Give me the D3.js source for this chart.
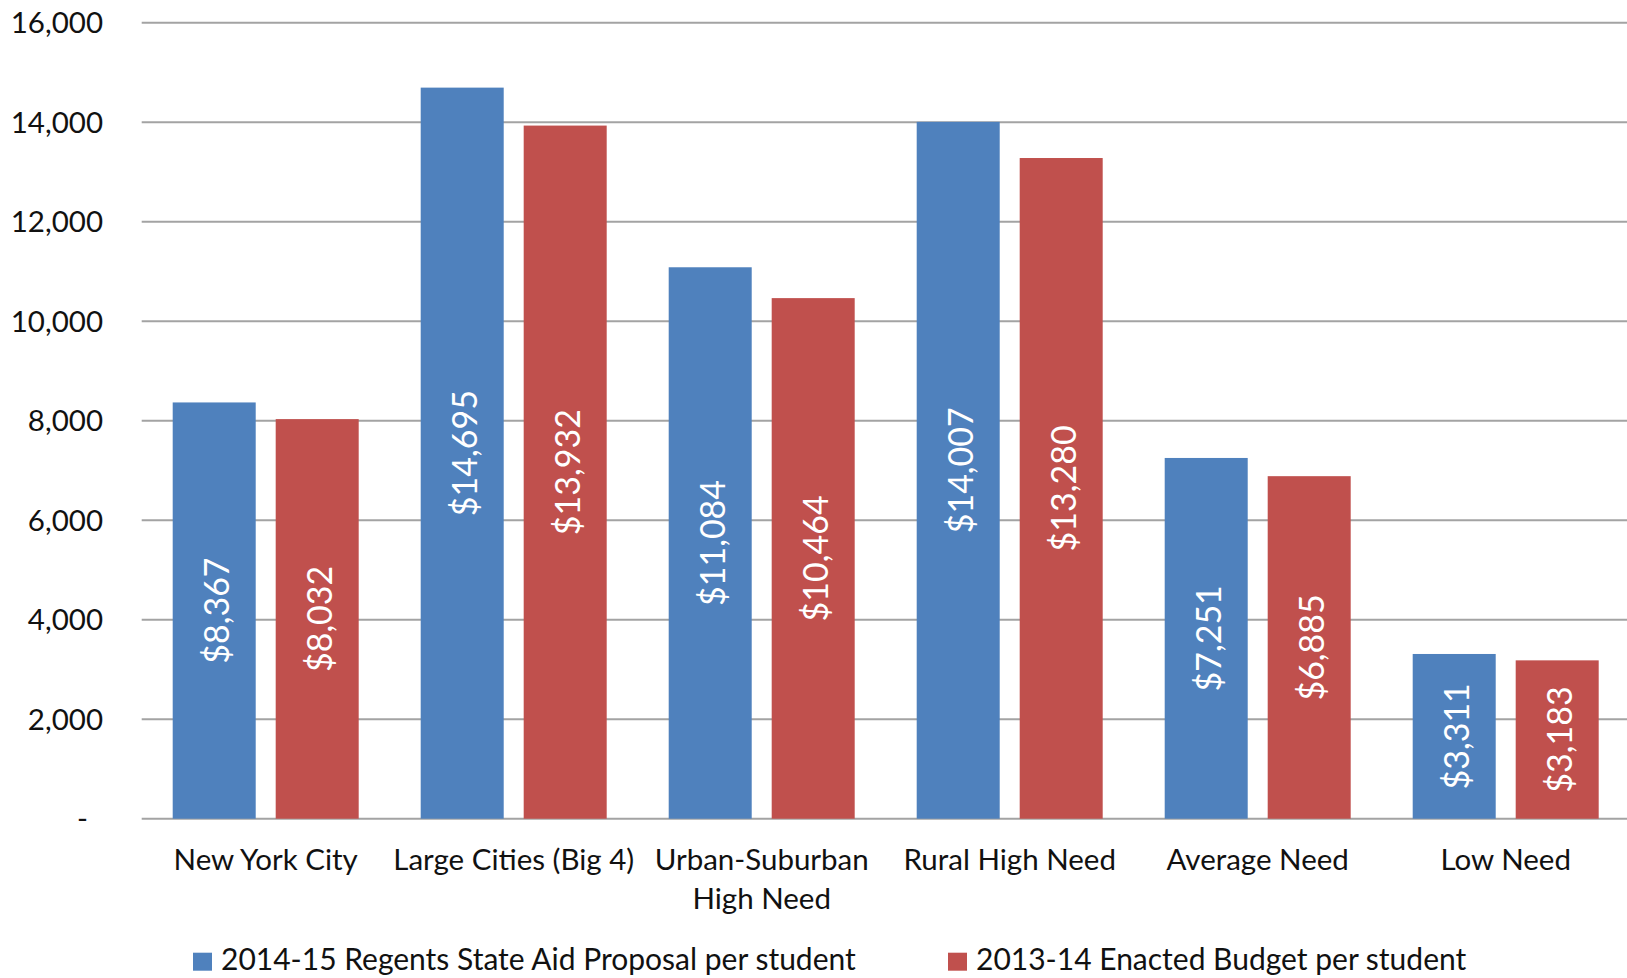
<!DOCTYPE html>
<html>
<head>
<meta charset="utf-8">
<script src="https://d3js.org/d3.v7.min.js"></script>
<style>
    body { margin: 0; background: white; }
    text { font-family: Lato, "Open Sans", sans-serif; }
</style>
</head>
<body>
<div id="chart"></div>
<script>
// Chart data
var categories = ["New York City", "Large Cities (Big 4)", "Urban-Suburban High Need",
    "Rural High Need", "Average Need", "Low Need"];
var categoryLines = [["New York City"], ["Large Cities (Big 4)"], ["Urban-Suburban", "High Need"],
    ["Rural High Need"], ["Average Need"], ["Low Need"]];
var seriesNames = ["2014-15 Regents State Aid Proposal per student", "2013-14 Enacted Budget per student"];
var proposal1415 = [8367, 14695, 11084, 14007, 7251, 3311];
var enacted1314 = [8032, 13932, 10464, 13280, 6885, 3183];
var yTicks = [0, 2000, 4000, 6000, 8000, 10000, 12000, 14000, 16000];

var colors = ["#4F81BD", "#C0504D"];

// SVG wrapper dimensions
var svgWidth = 1627;
var svgHeight = 978;

var margin = { top: 22.7, left: 141.7, bottom: 159.3, right: 0 };
var plotRight = 1629.7;

var svg = d3.select("#chart")
    .append("svg")
    .attr("width", svgWidth)
    .attr("height", svgHeight);

// Scales
var y = d3.scaleLinear()
    .domain([0, 16000])
    .range([svgHeight - margin.bottom, margin.top]);

var x0 = d3.scaleBand()
    .domain(categories)
    .range([margin.left, plotRight])
    .paddingInner(0.25)
    .paddingOuter(0.125);

var x1 = d3.scaleBand()
    .domain([0, 1])
    .range([0, x0.bandwidth()])
    .paddingInner(0.194);

// Gridlines
svg.append("g")
    .selectAll("line")
    .data(yTicks)
    .enter()
    .append("line")
    .attr("x1", margin.left)
    .attr("x2", svgWidth)
    .attr("y1", d => y(d))
    .attr("y2", d => y(d))
    .attr("stroke", "#A3A3A3")
    .attr("stroke-width", 2);

// Y axis labels (zero shows as a dash)
var fmt = d3.format(",");
svg.append("g")
    .selectAll("text")
    .data(yTicks)
    .enter()
    .append("text")
    .attr("x", d => d === 0 ? 88 : 103)
    .attr("y", d => y(d))
    .attr("dy", "0.36em")
    .attr("text-anchor", "end")
    .style("font-size", "29.5px")
    .attr("fill", "#111")
    .text(d => d === 0 ? "-" : fmt(d));

// Rows of bar data
var rows = categories.map((c, i) => ({ cat: c, values: [proposal1415[i], enacted1314[i]] }));

var groups = svg.append("g")
    .selectAll("g")
    .data(rows)
    .enter()
    .append("g")
    .attr("transform", d => `translate(${x0(d.cat)},0)`);

groups.selectAll("rect")
    .data(d => d.values.map((v, s) => ({ v: v, s: s })))
    .enter()
    .append("rect")
    .attr("x", d => x1(d.s))
    .attr("y", d => y(d.v))
    .attr("width", x1.bandwidth())
    .attr("height", d => y(0) - y(d.v))
    .attr("fill", d => colors[d.s]);

// Rotated value labels inside bars
groups.selectAll("text")
    .data(d => d.values.map((v, s) => ({ v: v, s: s })))
    .enter()
    .append("text")
    .attr("transform", d => `translate(${x1(d.s) + x1.bandwidth() / 2}, ${(y(d.v) + y(0)) / 2}) rotate(-90)`)
    .attr("dy", "0.44em")
    .attr("text-anchor", "middle")
    .style("font-size", "34px")
    .attr("fill", "white")
    .text(d => "$" + fmt(d.v));

// Category labels
categoryLines.forEach((lines, i) => {
    var t = svg.append("text")
        .attr("x", x0(categories[i]) + x0.bandwidth() / 2)
        .attr("y", 870)
        .attr("text-anchor", "middle")
        .style("font-size", "29.5px")
        .attr("fill", "#111");
    lines.forEach((line, j) => {
        t.append("tspan")
            .attr("x", x0(categories[i]) + x0.bandwidth() / 2)
            .attr("y", 870 + j * 39)
            .text(line);
    });
});

// Legend
var legendX = [193, 948];
seriesNames.forEach((name, i) => {
    svg.append("rect")
        .attr("x", legendX[i])
        .attr("y", 952.7)
        .attr("width", 19)
        .attr("height", 18)
        .attr("fill", colors[i]);
    svg.append("text")
        .attr("x", legendX[i] + 28)
        .attr("y", 970)
        .style("font-size", "30px")
        .attr("fill", "#111")
        .text(name);
});
</script>
</body>
</html>
